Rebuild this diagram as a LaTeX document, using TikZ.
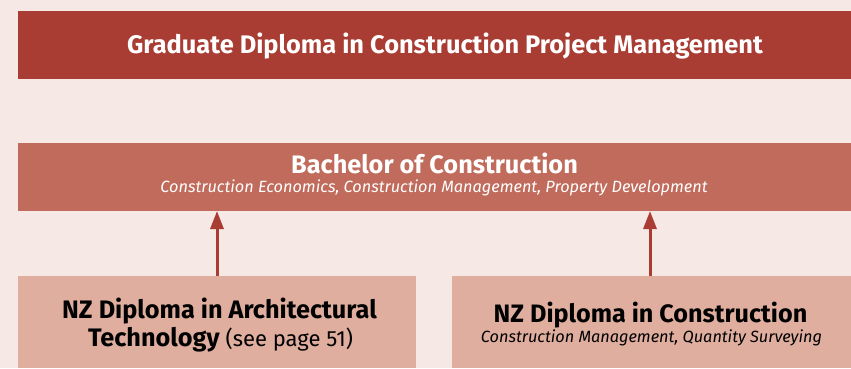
\documentclass[tikz,border=0pt]{standalone}
\usepackage{fontspec}
\setmainfont{Fira Sans}
\usetikzlibrary{arrows.meta}
\definecolor{bgc}{HTML}{F6E8E4}
\definecolor{topc}{HTML}{A93D33}
\definecolor{midc}{HTML}{C06B5B}
\definecolor{lowc}{HTML}{DFAE9F}
\begin{document}
\begin{tikzpicture}[x=1pt,y=-1pt,
  box/.style={rectangle, inner sep=0pt, outer sep=0pt, draw=none},
  txt/.style={inner sep=0pt, anchor=base},
  up/.style={draw=topc, line width=3pt, -{Triangle[width=13pt,length=18pt]}, shorten >=0pt}]
\fill[bgc] (0,0) rectangle (851,368);
\useasboundingbox (0,0) rectangle (851,368);
\node[box, fill=topc, minimum width=833pt, minimum height=68pt] (grad) at (434.5,45) {};
\node[box, fill=midc, minimum width=833pt, minimum height=68pt] (bach) at (434.5,177) {};
\node[box, fill=lowc, minimum width=398pt, minimum height=92pt] (arch) at (217,322) {};
\node[box, fill=lowc, minimum width=399pt, minimum height=92pt] (cons) at (651.5,322) {};
\node[txt, text=white, font=\bfseries\fontsize{25.4}{30}\selectfont] (gradt) at (445,53) {Graduate Diploma in Construction Project Management};
\node[txt, text=white, font=\bfseries\fontsize{25.3}{30}\selectfont] (bacht) at (434.5,173) {Bachelor of Construction};
\node[txt, text=white, font=\itshape\fontsize{16.3}{19}\selectfont] (bachs) at (434,192.5) {Construction Economics, Construction Management, Property Development};
\node[txt, font=\bfseries\fontsize{25.3}{30}\selectfont] (archt1) at (219.5,318) {NZ Diploma in Architectural};
\node[txt, font=\bfseries\fontsize{25.3}{30}\selectfont] (archt2) at (220.5,346) {Technology {\normalfont\fontsize{22}{25}\selectfont(see page 51)}};
\node[txt, font=\bfseries\fontsize{25.2}{30}\selectfont] (const) at (650.5,322) {NZ Diploma in Construction};
\node[txt, font=\itshape\fontsize{16.3}{19}\selectfont] (conss) at (651.5,342) {Construction Management, Quantity Surveying};
\draw[up] (arch.north -| 217,0) -- (bach.south -| 217,0);
\draw[up] (cons.north -| 650,0) -- (bach.south -| 650,0);
\end{tikzpicture}
\end{document}
